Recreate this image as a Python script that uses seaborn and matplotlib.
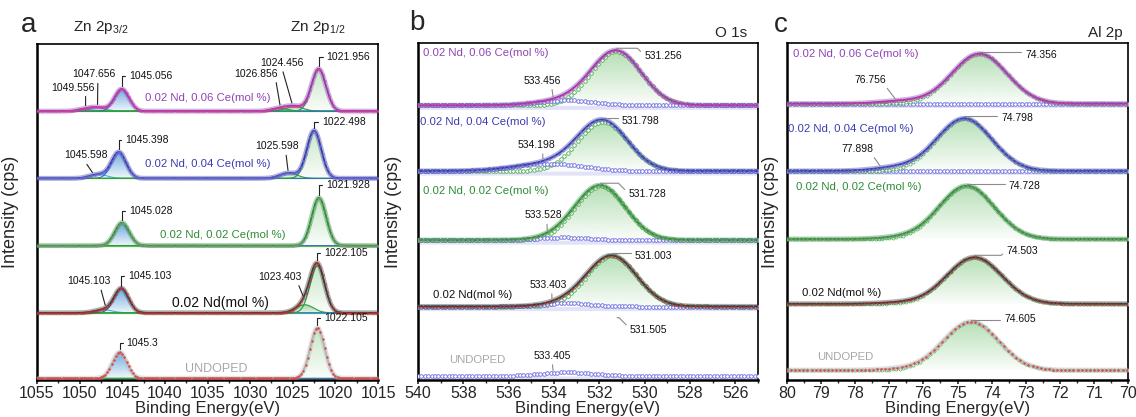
import numpy as np
import matplotlib
matplotlib.use("Agg")
import matplotlib.pyplot as plt
import seaborn as sns
from matplotlib.colors import to_rgb
from matplotlib.patches import Polygon
from matplotlib.ticker import AutoMinorLocator

sns.set_theme(style="ticks")
plt.rcParams["font.family"] = ["Liberation Sans", "DejaVu Sans"]
plt.rcParams["mathtext.fontset"] = "custom"
plt.rcParams["mathtext.rm"] = "Liberation Sans"

# samples, top to bottom
samples = ["0.02 Nd, 0.06 Ce(mol %)", "0.02 Nd, 0.04 Ce(mol %)",
           "0.02 Nd, 0.02 Ce(mol %)", "0.02 Nd(mol %)", "UNDOPED"]
line_colors = ["#8b3fb3", "#3a3caa", "#2f8f3a", "#3a3a3a", "#b8b8b8"]
dot_colors = ["#de3c9c", "#6d6dd8", "#7f9a78", "#c83030", "#e23434"]
text_colors = ["#8e44b4", "#3b3bb0", "#2e8b36", "#111111", "#a8a8a8"]

# a: Zn 2p  (peak centre eV, height, FWHM eV)
zn_offset = [8.0, 6.0, 4.0, 2.0, 0.05]
zn32_center = [1045.056, 1045.398, 1045.028, 1045.103, 1045.3]
zn32_height = [0.66, 0.78, 0.68, 0.72, 0.78]
zn12_center = [1021.956, 1022.498, 1021.928, 1022.105, 1022.105]
zn12_height = [1.26, 1.42, 1.42, 1.40, 1.50]
zn_fwhm = 2.0
zn_sat_center = [[1047.9, 1049.3, 1024.8, 1026.5], [1047.8, 1025.5], [], [1047.2, 1023.6], []]
zn_sat_height = [[0.10, 0.05, 0.14, 0.08], [0.12, 0.16], [], [0.09, 0.24], []]
zn_sat_fwhm = 2.4
zn_tag_row = [0, 0, 0, 0, 0, 0, 1, 1, 1, 1, 2, 2, 3, 3, 3, 3, 4, 4]
zn_tag_text = ["1049.556", "1047.656", "1045.056", "1026.856", "1024.456", "1021.956",
               "1045.598", "1045.398", "1025.598", "1022.498", "1045.028", "1021.928",
               "1045.103", "1045.103", "1023.403", "1022.105", "1045.3", "1022.105"]
zn_tag_x = [1049.3, 1047.9, 1045.056, 1026.5, 1025.1, 1021.956,
            1048.5, 1045.398, 1025.56, 1022.498, 1045.028, 1021.928,
            1047.0, 1045.103, 1023.8, 1022.105, 1045.3, 1022.105]

# b: O 1s
o_offset = [8.15, 6.2, 4.15, 2.18, 0.12]
o_main_center = [531.25, 531.85, 531.95, 531.45, 531.5]
o_main_height = [1.6, 1.46, 1.6, 1.5, 0.0]
o_main_fwhm = 2.6
o_sec_center = [533.456, 534.198, 533.528, 533.403, 533.405]
o_sec_height = [0.15, 0.22, 0.08, 0.10, 0.11]
o_sec_fwhm = [3.0, 3.6, 2.6, 2.4, 2.6]
o_tag_row = [0, 0, 1, 1, 2, 2, 3, 3, 4]
o_tag_text = ["531.256", "533.456", "531.798", "534.198", "531.728", "533.528",
              "531.003", "533.403", "533.405"]
o_tag_x = [531.25, 534.04, 531.85, 534.49, 531.95, 534.3, 531.45, 534.09, 534.04]
o_float_text, o_float_x, o_float_y = "531.505", 531.22, 1.85

# c: Al 2p
al_offset = [8.2, 6.2, 4.18, 2.26, 0.29]
al_center = [74.356, 74.798, 74.728, 74.503, 74.605]
al_height = [1.48, 1.56, 1.58, 1.38, 1.44]
al_fwhm = 1.9
al_sh_center = [76.6, 76.8, 76.6, 76.6, 76.6]
al_sh_height = [0.08, 0.10, 0.05, 0.04, 0.04]
al_sh_fwhm = 1.6
al_tag_row = [0, 0, 1, 1, 2, 3, 4]
al_tag_text = ["74.356", "76.756", "74.798", "77.898", "74.728", "74.503", "74.605"]
al_tag_x = [74.356, 76.83, 74.798, 77.27, 74.728, 74.503, 74.605]


def gauss(x, c, h, w):
    return h * np.exp(-4 * np.log(2) * ((x - c) / w) ** 2)


def grad_fill(ax, x, y, base, color, a0=0.05, a1=0.6, z=1):
    verts = np.column_stack([np.r_[x, x[::-1]], np.r_[y, np.full(len(x), base)]])
    clip = Polygon(verts, closed=True, fc="none", ec="none")
    ax.add_patch(clip)
    img = np.zeros((64, 2, 4))
    img[..., :3] = to_rgb(color)
    img[..., 3] = np.linspace(a0, a1, 64)[:, None]
    im = ax.imshow(img, extent=[x.min(), x.max(), base, y.max()], origin="lower",
                   aspect="auto", zorder=z, interpolation="bilinear")
    im.set_clip_path(clip)


def envelope(ax, x, y, i, lw=1.3, every=6):
    sns.lineplot(x=x, y=y, ax=ax, color=line_colors[i], lw=lw + 2.4, alpha=0.4, zorder=4)
    sns.lineplot(x=x, y=y, ax=ax, color=line_colors[i], lw=lw, zorder=5)
    ax.plot(x[::every], y[::every], "o", ms=1.8, mew=0, color=dot_colors[i], alpha=0.85, zorder=6)


def tag(ax, text, xy, d, kind, rel=0.5, color="#222222"):
    dx, dy = d[0] * 0.72, d[1] * 0.72
    if kind == "bracket":
        ha, va, rp, cs = "left", "center", (0, 0.5), "angle,angleA=180,angleB=90,rad=0"
    elif kind == "side":
        ha, va, rp = "left", "center", (0, 0.6)
        cs = "angle,angleA=%d,angleB=0,rad=0" % (135 if dy < 0 else 45)
    else:
        ha, va, rp, cs = "center", "center", (rel, 0), "arc3,rad=0"
    ax.annotate(text, xy=xy, xytext=(dx, dy), textcoords="offset points", ha=ha, va=va,
                fontsize=7.5, color="#111111", zorder=10,
                arrowprops=dict(arrowstyle="-", color=color, lw=0.8, shrinkA=0.5, shrinkB=0,
                                relpos=rp, connectionstyle=cs))


W, H = 1136, 417
fig = plt.figure(figsize=(W / 100, H / 100), dpi=100)
ax_a = fig.add_axes([37 / W, 1 - 380 / H, 341 / W, 336 / H])
ax_b = fig.add_axes([418 / W, 1 - 380 / H, 340 / W, 337 / H])
ax_c = fig.add_axes([787 / W, 1 - 380 / H, 341 / W, 337 / H])

# ---------------- a ----------------
x_a = np.linspace(1055, 1015, 801)
env_a = []
for i in range(5):
    off = zn_offset[i]
    p32 = gauss(x_a, zn32_center[i], zn32_height[i], zn_fwhm)
    p12 = gauss(x_a, zn12_center[i], zn12_height[i], zn_fwhm)
    env = p32 + p12
    for c, h in zip(zn_sat_center[i], zn_sat_height[i]):
        s = gauss(x_a, c, h, zn_sat_fwhm)
        env = env + s
        if c < 1035:
            grad_fill(ax_a, x_a, off + s, off, "#4caf50", 0.1, 0.5)
            ax_a.plot(x_a, off + s, color="#2e9e3e", lw=0.8, zorder=3)
        else:
            ax_a.plot(x_a, off + s, color="#3fb4d4", lw=0.8, zorder=3)
    grad_fill(ax_a, x_a, off + p32, off, "#3d8bd4", 0.08, 0.75)
    grad_fill(ax_a, x_a, off + p12, off, "#5cb85c", 0.03, 0.35)
    ax_a.plot(x_a, off + p32, color="#3070c0", lw=0.8, zorder=3)
    ax_a.plot(x_a, off + p12, color="#2e9e3e", lw=0.9, zorder=3)
    ax_a.plot(x_a, np.full_like(x_a, off), color="#6cbf5c", lw=0.9, zorder=2)
    envelope(ax_a, x_a, off + env, i, lw=1.2, every=5)
    env_a.append(env)

zn_label_layout = [(1042.3, 0.38, 8.2), (1042.3, 0.43, 8.2), (1040.6, 0.31, 8.2),
                   (1039.2, 0.30, 10), (1037.6, 0.27, 9)]
for i, (lx, ly, fs) in enumerate(zn_label_layout):
    ax_a.text(lx, zn_offset[i] + ly, samples[i], color=text_colors[i], fontsize=fs,
              ha="left", va="center", zorder=11)

zn_tag_layout = [(-13, 18, "drop", 0.8), (-4, 30, "drop", 0.6), (7, 10, "bracket", 0),
                 (-24, 31, "drop", 0.95), (-10, 40, "drop", 0.5), (8, 9, "bracket", 0),
                 (-6, 17, "drop", 0.45), (6, 9, "bracket", 0), (-11, 24, "drop", 0.7),
                 (8, 6, "bracket", 0), (7, 9, "bracket", 0), (7, 10, "bracket", 0),
                 (-16, 24, "drop", 0.75), (7, 10, "bracket", 0), (-23, 19, "drop", 0.9),
                 (7, 7, "bracket", 0), (7, 6, "bracket", 0), (7, 7, "bracket", 0)]
for r, t, tx, (dx, dy, kind, rel) in zip(zn_tag_row, zn_tag_text, zn_tag_x, zn_tag_layout):
    yv = zn_offset[r] + np.interp(tx, x_a[::-1], env_a[r][::-1]) + 0.08
    tag(ax_a, t, (tx, yv), (dx, dy), kind, rel)

# ---------------- b ----------------
x_b = np.linspace(540, 525, 601)
env_b = []
for i in range(5):
    off = o_offset[i]
    main = gauss(x_b, o_main_center[i], o_main_height[i], o_main_fwhm)
    sec = gauss(x_b, o_sec_center[i], o_sec_height[i], o_sec_fwhm[i])
    env = main + sec
    ax_b.fill_between(x_b, off - 0.12, off, color="#c9c9f0", alpha=0.5, lw=0, zorder=1)
    if o_main_height[i] > 0:
        grad_fill(ax_b, x_b, off + main, off, "#5cb85c", 0.03, 0.45)
        ax_b.plot(x_b, off + main, "o", ms=2.6, mfc="white", mec="#4caf50", mew=0.6,
                  markevery=6, zorder=3)
    ax_b.plot(x_b, off + sec, "o", ms=2.6, mfc="white", mec="#6a6ae0", mew=0.6,
              markevery=6, zorder=3)
    if o_main_height[i] > 0:
        envelope(ax_b, x_b, off + env, i, lw=1.3, every=8)
    env_b.append(env)

o_label_layout = [(539.78, 1.56), (539.91, 1.45), (539.78, 1.47), (539.34, 0.35), (538.63, 0.47)]
for i, (lx, ly) in enumerate(o_label_layout):
    ax_b.text(lx, o_offset[i] + ly, samples[i], color=text_colors[i], fontsize=8.2,
              ha="left", va="center", zorder=11)

o_tag_layout = [(28, -8, "side", 0), (-11, 16, "drop", 0.75), (19, -3, "side", 0),
                (-6, 14, "drop", 0.65), (28, -11, "side", 0), (-4, 15, "drop", 0.6),
                (23, -3, "side", 0), (-4, 14, "drop", 0.6), (-1, 15, "drop", 0.5)]
for r, t, tx, (dx, dy, kind, rel) in zip(o_tag_row, o_tag_text, o_tag_x, o_tag_layout):
    yv = o_offset[r] + np.interp(tx, x_b[::-1], env_b[r][::-1]) + 0.06
    tag(ax_b, t, (tx, yv), (dx, dy), kind, rel, color="#8a8a8a")
tag(ax_b, o_float_text, (o_float_x, o_float_y), (13, -12), "side", color="#8a8a8a")

# ---------------- c ----------------
x_c = np.linspace(80, 70, 501)
env_c = []
for i in range(5):
    off = al_offset[i]
    main = gauss(x_c, al_center[i], al_height[i], al_fwhm)
    sh = gauss(x_c, al_sh_center[i], al_sh_height[i], al_sh_fwhm)
    env = main + sh
    grad_fill(ax_c, x_c, off + main, off, "#5cb85c", 0.03, 0.45)
    if i < 2:
        ax_c.fill_between(x_c, off - 0.12, off, color="#c9c9f0", alpha=0.5, lw=0, zorder=1)
        ax_c.plot(x_c, np.full_like(x_c, off), "o", ms=2.6, mfc="white", mec="#6a6ae0",
                  mew=0.6, markevery=5, zorder=3)
    ax_c.plot(x_c, off + main, "o", ms=2.2, mfc="white", mec="#4caf50", mew=0.5,
              markevery=5, zorder=3)
    envelope(ax_c, x_c, off + env, i, lw=1.3, every=6)
    env_c.append(env)

al_label_layout = [(79.82, 1.48), (79.97, 1.24), (79.74, 1.56), (79.56, 0.33), (79.12, 0.39)]
for i, (lx, ly) in enumerate(al_label_layout):
    ax_c.text(lx, al_offset[i] + ly, samples[i], color=text_colors[i], fontsize=8.2,
              ha="left", va="center", zorder=11)

al_tag_layout = [(46, -3, "side", 0), (-25, 19, "drop", 0.95), (37, -2, "side", 0),
                 (-23, 17, "drop", 0.95), (42, -2, "side", 0), (32, 4, "side", 0),
                 (33, 1, "side", 0)]
for r, t, tx, (dx, dy, kind, rel) in zip(al_tag_row, al_tag_text, al_tag_x, al_tag_layout):
    yv = al_offset[r] + np.interp(tx, x_c[::-1], env_c[r][::-1]) + 0.06
    tag(ax_c, t, (tx, yv), (dx, dy), kind, rel, color="#8a8a8a")

# ---------------- axes styling ----------------
for ax, lim, ticks, lx in [(ax_a, (1055, 1015), np.arange(1015, 1056, 5), -0.052),
                           (ax_b, (540, 525), np.arange(526, 541, 2), -0.047),
                           (ax_c, (80, 70), np.arange(70, 81, 1), -0.022)]:
    ax.set_xlim(*lim)
    ax.set_ylim(0, 10)
    ax.set_xticks(ticks)
    ax.set_xticklabels([f"{t:g}" for t in ticks])
    ax.xaxis.set_minor_locator(AutoMinorLocator(2))
    ax.set_yticks([])
    ax.tick_params(axis="x", which="major", direction="out", length=3, width=1.2,
                   labelsize=11.5, pad=1)
    ax.tick_params(axis="x", which="minor", direction="out", length=2.5, width=1)
    for side in ["left", "bottom"]:
        ax.spines[side].set_linewidth(1.8)
    for side in ["top", "right"]:
        ax.spines[side].set_linewidth(1.2)
    for sp in ax.spines.values():
        sp.set_color("black")
        sp.set_visible(True)
    ax.set_xlabel("Binding Energy(eV)", fontsize=12, labelpad=0)
    ax.set_ylabel("Intensity (cps)", fontsize=13)
    ax.yaxis.set_label_coords(lx, 0.5)
    ax.set_facecolor("white")

fig.text(29 / W, 1 - 25 / H, "a", fontsize=20, ha="center", va="center")
fig.text(417 / W, 1 - 23 / H, "b", fontsize=20, ha="center", va="center")
fig.text(781 / W, 1 - 25 / H, "c", fontsize=20, ha="center", va="center")
fig.text(73 / W, 1 - 27 / H, "Zn 2p$_{3/2}$", fontsize=11, ha="left", va="center")
fig.text(290 / W, 1 - 27 / H, "Zn 2p$_{1/2}$", fontsize=11, ha="left", va="center")
fig.text(715 / W, 1 - 33 / H, "O 1s", fontsize=11, ha="left", va="center")
fig.text(1088 / W, 1 - 33 / H, "Al 2p", fontsize=11, ha="left", va="center")

fig.savefig("out.png", dpi=100)
